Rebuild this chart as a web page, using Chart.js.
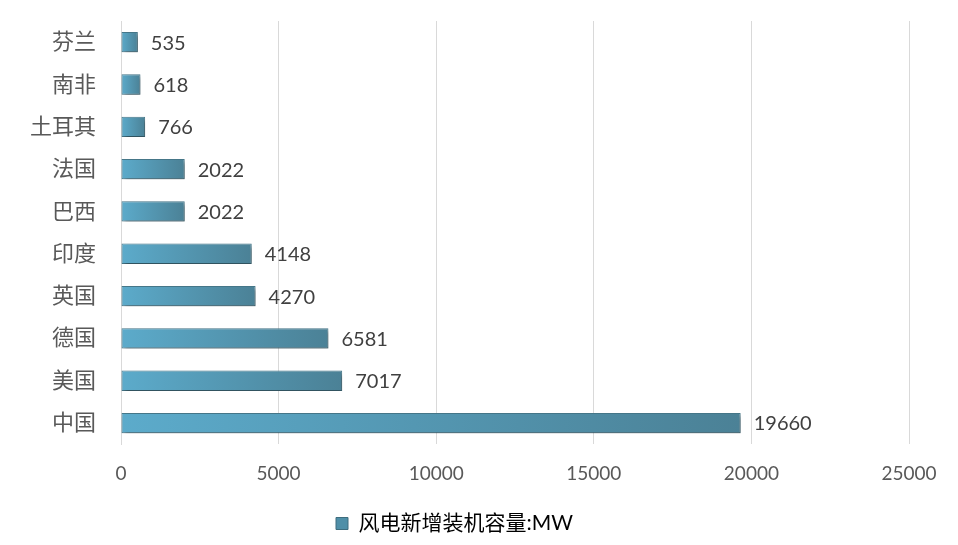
<!DOCTYPE html>
<html>
<head>
<meta charset="utf-8">
<script src="https://cdn.jsdelivr.net/npm/chart.js@4/dist/chart.umd.min.js"></script>
<style>
  html, body { margin: 0; padding: 0; background: #fff; }
  #wrap { width: 958px; height: 545px; }
</style>
</head>
<body>
<div id="wrap"><canvas id="chart" width="958" height="545"></canvas></div>
<script>
const categories = ["芬兰", "南非", "土耳其", "法国", "巴西", "印度", "英国", "德国", "美国", "中国"];
const capacity = [535, 618, 766, 2022, 2022, 4148, 4270, 6581, 7017, 19660];
const xTicks = [0, 5000, 10000, 15000, 20000, 25000];
const seriesName = "风电新增装机容量:MW";

const FONT = "Lato, 'Noto Sans CJK SC', sans-serif";

// gradient per bar, light on the left, darker at the end
function barFill(c) {
  const chart = c.chart;
  const x = chart.scales.x;
  if (!chart.chartArea || !x || c.dataIndex === undefined) return "#5aa6c4";
  const x0 = x.getPixelForValue(0);
  const x1 = x.getPixelForValue(c.raw);
  if (!isFinite(x0) || !isFinite(x1) || x1 - x0 < 1) return "#5aa6c4";
  const g = chart.ctx.createLinearGradient(x0, 0, x1, 0);
  g.addColorStop(0, "#5cabcb");
  g.addColorStop(1, "#4b8196");
  return g;
}

const shadowPlugin = {
  id: "barShadow",
  beforeDatasetDraw(chart) {
    const ctx = chart.ctx;
    ctx.save();
    ctx.shadowColor = "rgba(0,0,0,0.35)";
    ctx.shadowBlur = 4;
    ctx.shadowOffsetX = 2;
    ctx.shadowOffsetY = 3;
  },
  afterDatasetDraw(chart) {
    chart.ctx.restore();
  }
};

const valueLabels = {
  id: "valueLabels",
  afterDatasetsDraw(chart) {
    const ctx = chart.ctx;
    const meta = chart.getDatasetMeta(0);
    ctx.save();
    ctx.font = "20px " + FONT;
    ctx.fillStyle = "#404040";
    ctx.textAlign = "left";
    ctx.textBaseline = "middle";
    meta.data.forEach((bar, i) => {
      ctx.fillText(String(capacity[i]), bar.x + 13, bar.y + 1);
    });
    ctx.restore();
  }
};

new Chart(document.getElementById("chart").getContext("2d"), {
  type: "bar",
  data: {
    labels: categories,
    datasets: [{
      label: seriesName,
      data: capacity,
      backgroundColor: barFill,
      borderColor: "#46788a",
      borderWidth: 1,
      borderSkipped: false,
      barPercentage: 0.48,
      categoryPercentage: 1
    }]
  },
  options: {
    indexAxis: "y",
    responsive: false,
    animation: false,
    layout: { padding: { left: 0, right: 49, top: 21, bottom: 1 } },
    scales: {
      x: {
        min: 0,
        max: 25000,
        afterBuildTicks(axis) { axis.ticks = xTicks.map(v => ({ value: v })); },
        afterFit(axis) { axis.height = axis.height - 6; },
        grid: { color: "#d9d9d9", lineWidth: 1, drawTicks: false },
        border: { display: false },
        ticks: { color: "#595959", font: { size: 19, family: FONT }, padding: 18, callback: v => String(v) }
      },
      y: {
        afterFit(axis) {
          axis.width = 121;
          axis.paddingTop = 0;
          axis.paddingBottom = 0;
        },
        grid: { display: false },
        border: { display: true, color: "#d9d9d9" },
        ticks: { color: "#595959", font: { size: 22, family: FONT }, padding: 17 }
      }
    },
    plugins: {
      legend: {
        position: "bottom",
        labels: {
          color: "#595959",
          font: { size: 21, family: FONT },
          boxWidth: 12,
          boxHeight: 12,
          padding: 16,
          generateLabels() {
            return [{ text: seriesName, fillStyle: "#4f8fa8", strokeStyle: "#3e6d7e", lineWidth: 1, datasetIndex: 0 }];
          }
        }
      },
      tooltip: { enabled: false }
    }
  },
  plugins: [shadowPlugin, valueLabels]
});
</script>
</body>
</html>
